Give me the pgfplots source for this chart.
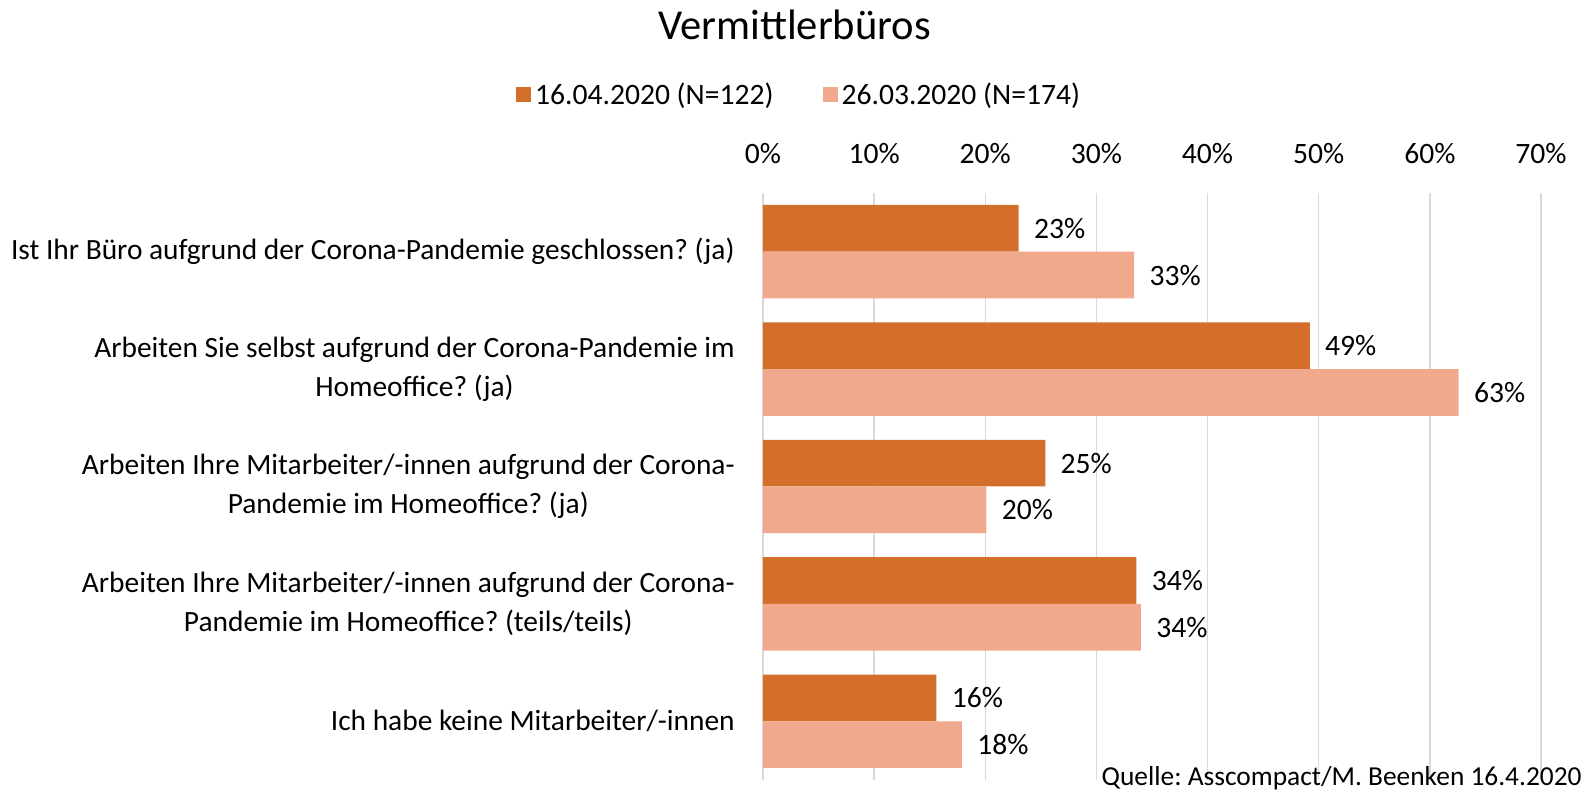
\documentclass[border=0pt]{standalone}
\usepackage{pgfplots}
\pgfplotsset{compat=1.18}
\usepackage{fontspec}
\setmainfont{Carlito}
\frenchspacing
\definecolor{darkor}{HTML}{D36F2B}
\definecolor{lightor}{HTML}{F1A98D}
\definecolor{gridc}{HTML}{D9D9D9}
\newcommand{\lbl}{\fontsize{14.8}{17.5}\selectfont}
\begin{document}
\begin{tikzpicture}
\useasboundingbox (0,0) rectangle (793.5pt,395.5pt);
\begin{axis}[
  at={(381.5pt,5.5pt)}, anchor=south west,
  scale only axis, width=389pt, height=293.5pt,
  xmin=0, xmax=70, ymin=-0.5, ymax=4.5,
  enlargelimits=false, clip=false,
  xbar, bar width=23.35pt,
  axis line style={draw=none},
  major tick length=0pt,
  xtick={0,10,...,70},
  xticklabel pos=upper,
  xticklabel={\pgfmathprintnumber{\tick}\%},
  /pgf/number format/assume math mode=true,
  xmajorgrids, grid style={gridc, line width=0.75pt},
  xticklabel style={font=\lbl, anchor=base, inner sep=0pt, yshift=14.5pt},
  ytick={0,1,2,3,4},
  yticklabels={
    {Ich habe keine Mitarbeiter/-innen},
    {Arbeiten Ihre Mitarbeiter/-innen aufgrund der Corona-\\Pandemie im Homeoffice? (teils/teils)},
    {Arbeiten Ihre Mitarbeiter/-innen aufgrund der Corona-\\Pandemie im Homeoffice? (ja)},
    {Arbeiten Sie selbst aufgrund der Corona-Pandemie im\\Homeoffice? (ja)},
    {Ist Ihr Büro aufgrund der Corona-Pandemie geschlossen? (ja)}},
  yticklabel style={font=\fontsize{14.7}{19.25}\selectfont, align=center, anchor=east, inner sep=0pt, xshift=-14pt},
  point meta=x,
  nodes near coords={\pgfmathprintnumber[fixed,precision=0]{\pgfplotspointmeta}\%},
  every node near coord/.append style={font=\lbl, anchor=west, inner sep=0pt, xshift=7.5pt, text=black},
  legend columns=2,
  legend style={at={(0.0476,1.167)}, anchor=center, draw=none, fill=none,
    font=\lbl, inner sep=0pt,
    /tikz/every even column/.append style={column sep=22.5pt}},
  legend image code/.code={\path[#1, draw=none] (0pt,-3.75pt) rectangle (7.5pt,3.75pt);},
]
\addplot[fill=darkor, draw=none, bar shift=11.675pt] coordinates {
  (23.0,4) (49.2,3) (25.4,2) (33.6,1) (15.6,0)};
\addlegendentry{16.04.2020 (N=122)}
\addplot[fill=lightor, draw=none, bar shift=-11.675pt] coordinates {
  (33.4,4) (62.6,3) (20.1,2) (34.0,1) (17.9,0)};
\addlegendentry{26.03.2020 (N=174)}
\end{axis}
\node[font=\fontsize{21.3}{25}\selectfont, anchor=center] at (397.25pt,383pt) {Vermittlerbüros};
\node[font=\fontsize{13.7}{16}\selectfont, anchor=base east, inner sep=0pt] at (791pt,2.5pt) {Quelle: Asscompact/M. Beenken 16.4.2020};
\end{tikzpicture}
\end{document}
